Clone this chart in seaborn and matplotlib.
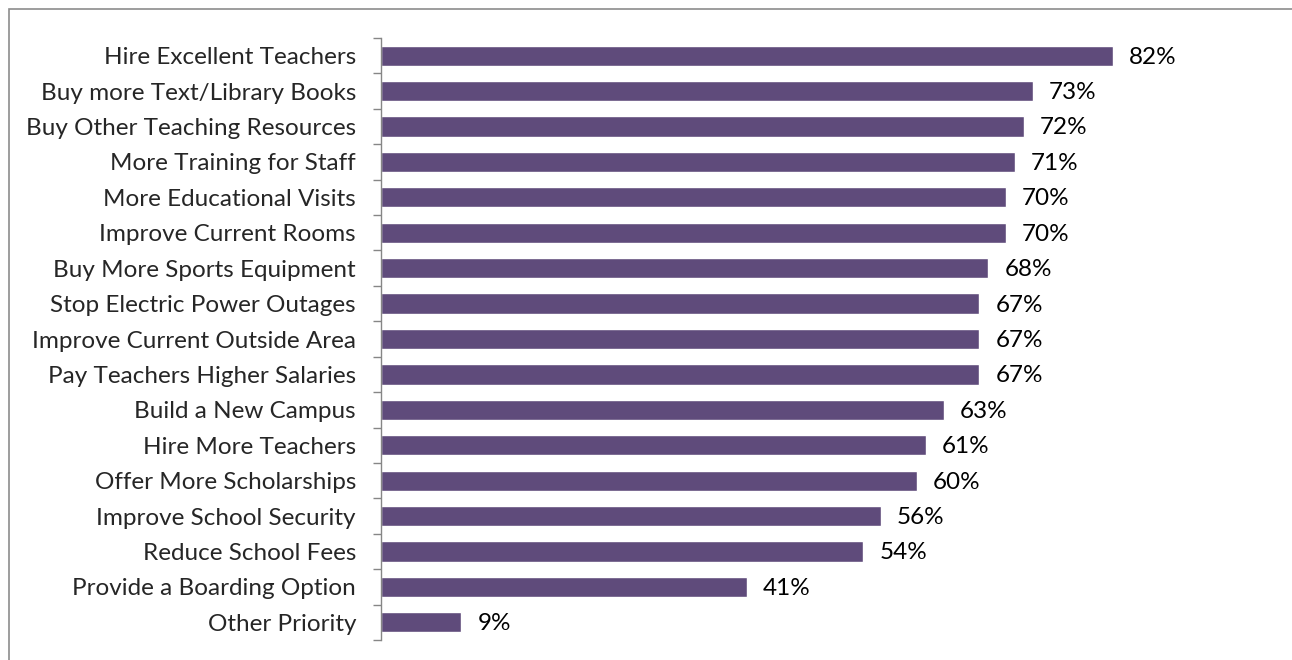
import numpy as np
import pandas as pd
import matplotlib
matplotlib.use("Agg")
import matplotlib.pyplot as plt
from matplotlib.patches import Rectangle
import seaborn as sns

priorities = [
    "Hire Excellent Teachers",
    "Buy more Text/Library Books",
    "Buy Other Teaching Resources",
    "More Training for Staff",
    "More Educational Visits",
    "Improve Current Rooms",
    "Buy More Sports Equipment",
    "Stop Electric Power Outages",
    "Improve Current Outside Area",
    "Pay Teachers Higher Salaries",
    "Build a New Campus",
    "Hire More Teachers",
    "Offer More Scholarships",
    "Improve School Security",
    "Reduce School Fees",
    "Provide a Boarding Option",
    "Other Priority",
]
shares = [82, 73, 72, 71, 70, 70, 68, 67, 67, 67, 63, 61, 60, 56, 54, 41, 9]

df = pd.DataFrame({"priority": priorities, "share": shares})

sns.set_style("white")
plt.rcParams["font.family"] = ["Lato", "DejaVu Sans"]

fig = plt.figure(figsize=(12.92, 6.6), dpi=100)
ax = fig.add_axes([381 / 1292, 20 / 660, 893 / 1292, 602 / 660])

sns.barplot(data=df, x="share", y="priority", orient="h", color="#5F4B7B",
            saturation=1, width=0.57, ax=ax)

ax.set_xlim(0, 100)
ax.set_ylim(len(priorities) - 0.5, -0.5)
ax.set_xlabel("")
ax.set_ylabel("")
ax.set_xticks([])

# tick marks between categories, labels at the centres
ax.set_yticks(np.arange(-0.5, len(priorities)), labels=[])
ax.set_yticks(np.arange(len(priorities)), labels=priorities, minor=True)
ax.tick_params(axis="y", which="major", length=6, width=1, color="#868686", direction="out", left=True)
ax.tick_params(axis="y", which="minor", length=0, pad=18, labelsize=17.5)

for side in ["top", "right", "bottom"]:
    ax.spines[side].set_visible(False)
ax.spines["left"].set_color("#868686")
ax.spines["left"].set_linewidth(1)

for i, v in enumerate(shares):
    ax.text(v + 1.8, i + 0.04, f"{v}%", va="center", ha="left", fontsize=17.5, color="black")

# outer chart frame
fig.patches.append(Rectangle((8.5 / 1292, -0.1), 1.2, (660 - 8.5) / 660 + 0.1,
                             transform=fig.transFigure, fill=False,
                             edgecolor="#8C8C8C", linewidth=1.2))

fig.savefig("out.png", dpi=100)
